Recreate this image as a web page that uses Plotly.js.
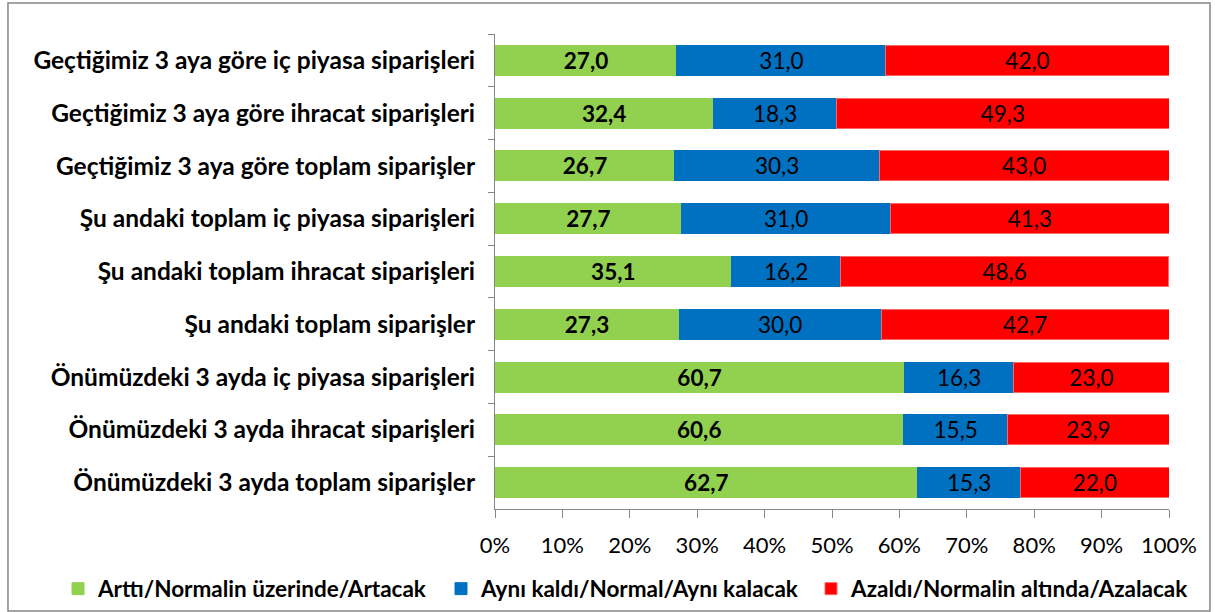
<!DOCTYPE html>
<html><head><meta charset="utf-8">
<script src="https://cdn.plot.ly/plotly-3.0.1.min.js"></script>
<style>html,body{margin:0;padding:0;background:#fff}#c{width:1215px;height:612px}</style>
</head><body><div id="c"></div>
<script>
const categories = [
  "Geçtiğimiz 3 aya göre iç piyasa siparişleri",
  "Geçtiğimiz 3 aya göre ihracat siparişleri",
  "Geçtiğimiz 3 aya göre toplam siparişler",
  "Şu andaki toplam iç piyasa siparişleri",
  "Şu andaki toplam ihracat siparişleri",
  "Şu andaki toplam siparişler",
  "Önümüzdeki 3 ayda iç piyasa siparişleri",
  "Önümüzdeki 3 ayda ihracat siparişleri",
  "Önümüzdeki 3 ayda toplam siparişler"
];
const arttiValues = [27.0, 32.4, 26.7, 27.7, 35.1, 27.3, 60.7, 60.6, 62.7];
const ayniValues  = [31.0, 18.3, 30.3, 31.0, 16.2, 30.0, 16.3, 15.5, 15.3];
const azaldiValues= [42.0, 49.3, 43.0, 41.3, 48.6, 42.7, 23.0, 23.9, 22.0];
const seriesNames = ["Arttı/Normalin üzerinde/Artacak", "Aynı kaldı/Normal/Aynı kalacak", "Azaldı/Normalin altında/Azalacak"];
const tickVals = [0,10,20,30,40,50,60,70,80,90,100];
const tickText = ["0%","10%","20%","30%","40%","50%","60%","70%","80%","90%","100%"];

const FONT = "Lato, 'Open Sans', sans-serif";
function bar(vals, name, color, bold, lineColor, legendId) {
  return {
    type: 'bar', orientation: 'h', y: categories, x: vals, name: name, legend: legendId,
    marker: {color: color, line: {color: lineColor, width: 1}},
    texttemplate: bold ? '<b>%{x:.1f}</b>' : '%{x:.1f}',
    textposition: 'inside', insidetextanchor: 'middle',
    textfont: {family: FONT, size: 22.5, color: '#000'},
    constraintext: 'none', hoverinfo: 'skip'
  };
}
const data = [
  bar(arttiValues, seriesNames[0], '#92D050', true, '#92D050', 'legend'),
  bar(ayniValues, seriesNames[1], '#0070C0', false, '#0070C0', 'legend2'),
  bar(azaldiValues, seriesNames[2], '#FF0000', false, '#FF6666', 'legend3')
];
const legFont = {family: FONT, size: 22.5, color: '#000', weight: 'bold'};
function leg(xpx) {
  return {orientation: 'h', xref: 'container', yref: 'container', x: xpx / 1215, xanchor: 'left',
          y: (612 - 589) / 612, yanchor: 'middle', font: legFont, itemwidth: 30, bgcolor: 'rgba(0,0,0,0)'};
}
const layout = {
  width: 1215, height: 612,
  margin: {l: 495, r: 46, t: 34, b: 103},
  barmode: 'stack', bargap: 0.43,
  separators: ',.',
  font: {family: FONT, color: '#000'},
  paper_bgcolor: '#fff', plot_bgcolor: '#fff',
  showlegend: true,
  legend: leg(58), legend2: leg(441), legend3: leg(811),
  xaxis: {range: [0, 100], tickvals: tickVals, ticktext: tickText, showgrid: false, zeroline: false,
          showline: true, linecolor: '#868686', linewidth: 1, ticks: 'outside', ticklen: 8, tickcolor: '#868686',
          ticklabelstandoff: 9,
          tickfont: {family: FONT, size: 22, color: '#000'}, fixedrange: true},
  yaxis: {autorange: 'reversed', type: 'category', showgrid: false, zeroline: false,
          showline: true, linecolor: '#868686', linewidth: 1, ticks: 'outside', ticklen: 6, tickcolor: '#868686',
          tickson: 'boundaries', ticklabelstandoff: 14,
          tickfont: {family: FONT, size: 24.5, color: '#000', weight: 'bold'}, fixedrange: true},
  shapes: [{type: 'rect', xref: 'paper', yref: 'paper', x0: -0.7226, x1: 1.0608, y0: -0.2147, y1: 1.0653,
            line: {color: '#868686', width: 1.5}, fillcolor: 'rgba(0,0,0,0)'}]
};
Plotly.newPlot('c', data, layout, {displayModeBar: false, staticPlot: true});
</script></body></html>
